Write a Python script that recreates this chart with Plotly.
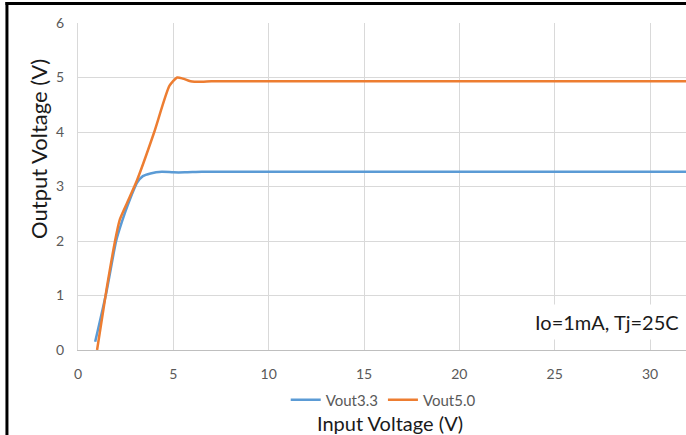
import plotly.graph_objects as go

# Output voltage vs input voltage for two regulator variants
vin_33 = [0.9, 1.5, 2.0, 2.3, 2.6, 3.1, 3.4, 3.8, 4.4, 5.0, 5.6, 6.5, 8, 10, 15, 20, 25, 30, 32]
vout_33 = [0.15, 1.08, 2.0, 2.35, 2.65, 3.07, 3.19, 3.24, 3.27, 3.26, 3.26, 3.27, 3.27, 3.27, 3.27, 3.27, 3.27, 3.27, 3.27]

vin_50 = [1.0, 1.5, 2.0, 2.2, 2.6, 3.1, 4.0, 4.8, 5.2, 5.5, 5.9, 6.5, 7.0, 10, 15, 20, 25, 30, 32]
vout_50 = [0.0, 1.12, 2.1, 2.4, 2.72, 3.12, 4.0, 4.85, 5.0, 4.98, 4.93, 4.92, 4.93, 4.93, 4.93, 4.93, 4.93, 4.93, 4.93]

x_ticks = [0, 5, 10, 15, 20, 25, 30]
y_ticks = [0, 1, 2, 3, 4, 5, 6]

FONT = "Lato"
TICK_GRAY = "#595959"
GRID = "#D9D9D9"

fig = go.Figure()
fig.add_trace(go.Scatter(
    x=vin_33, y=vout_33, mode="lines", name="Vout3.3",
    line=dict(color="#5B9BD5", width=2.5, shape="spline", smoothing=0.6),
))
fig.add_trace(go.Scatter(
    x=vin_50, y=vout_50, mode="lines", name="Vout5.0",
    line=dict(color="#ED7D31", width=2.5, shape="spline", smoothing=0.6),
))

W, H = 686, 435
L, T, B = 77.6, 23, 85
plot_w = W - L
plot_h = H - T - B


def px_x(p):
    return (p - L) / plot_w


def px_y(p):
    return (H - B - p) / plot_h


fig.update_layout(
    width=W, height=H,
    margin=dict(l=L, r=0, t=T, b=B, pad=0),
    paper_bgcolor="white", plot_bgcolor="white",
    font=dict(family=FONT, size=14, color=TICK_GRAY),
    showlegend=True,
    legend=dict(
        orientation="h", x=0.502, y=px_y(400), xanchor="center", yanchor="middle",
        font=dict(family=FONT, size=15, color=TICK_GRAY),
        tracegroupgap=0, bgcolor="rgba(0,0,0,0)",
    ),
    xaxis=dict(
        range=[0, (W - L) / 19.08], tickmode="array", tickvals=x_ticks,
        showgrid=True, gridcolor=GRID, gridwidth=1,
        showline=True, linecolor="#BFBFBF", linewidth=1,
        zeroline=False, ticks="", ticklabelstandoff=11,
        tickfont=dict(family=FONT, size=14, color=TICK_GRAY),
        fixedrange=True,
    ),
    yaxis=dict(
        range=[0, 6], tickmode="array", tickvals=y_ticks,
        showgrid=True, gridcolor=GRID, gridwidth=1,
        showline=True, linecolor=GRID, linewidth=1,
        zeroline=False, ticks="", ticklabelstandoff=10,
        tickfont=dict(family=FONT, size=14, color=TICK_GRAY),
        fixedrange=True,
    ),
    annotations=[
        dict(text="Input Voltage (V)", xref="paper", yref="paper",
             x=px_x(390), y=px_y(423), xanchor="center", yanchor="middle",
             showarrow=False, font=dict(family=FONT, size=20, color="#1a1a1a")),
        dict(text="Output Voltage (V)", xref="paper", yref="paper",
             x=px_x(38), y=px_y(148.5), xanchor="center", yanchor="middle",
             textangle=-90, showarrow=False,
             font=dict(family=FONT, size=22, color="#1a1a1a")),
        dict(text="Io=1mA, Tj=25C", xref="paper", yref="paper",
             x=px_x(607), y=px_y(322), xanchor="center", yanchor="middle",
             showarrow=False, bgcolor="white", borderpad=5,
             font=dict(family=FONT, size=20, color="#1a1a1a")),
    ],
    shapes=[
        dict(type="line", xref="paper", yref="paper", layer="above",
             x0=px_x(5), x1=px_x(W + 2), y0=px_y(3.5), y1=px_y(3.5),
             line=dict(color="black", width=3)),
        dict(type="line", xref="paper", yref="paper", layer="above",
             x0=px_x(6.5), x1=px_x(6.5), y0=px_y(2), y1=px_y(H + 2),
             line=dict(color="black", width=3)),
    ],
)

fig.write_html("out.html")
